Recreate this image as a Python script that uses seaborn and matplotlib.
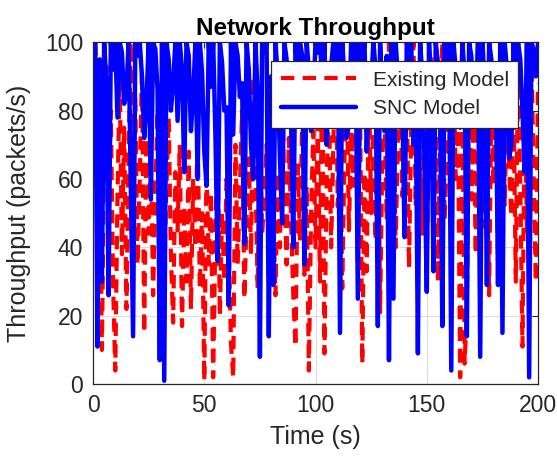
import numpy as np
import pandas as pd
import matplotlib
matplotlib.use("Agg")
import matplotlib.pyplot as plt
import seaborn as sns

# time axis (s)
time_s = list(range(1, 201))

# existing model throughput (packets/s)
existing = [
    100, 85, 62, 10, 70, 93, 45, 80, 30, 4, 55, 90, 38, 75, 22, 68, 100, 50, 84, 35,
    60, 92, 15, 72, 44, 70, 26, 55, 80, 42, 66, 33, 58, 78, 38, 18, 62, 45, 70, 17,
    52, 30, 68, 22, 60, 40, 75, 28, 50, 1, 64, 35, 56, 2, 45, 70, 20, 50, 30, 60,
    40, 12, 2, 70, 35, 58, 80, 25, 48, 66, 38, 90, 60, 28, 75, 44, 55, 70, 32, 80,
    50, 26, 62, 40, 85, 56, 35, 72, 48, 26, 11, 64, 42, 78, 32, 58, 4, 50, 74, 40,
    76, 30, 95, 9, 60, 84, 40, 70, 100, 52, 78, 28, 66, 90, 45, 74, 58, 96, 36, 82,
    6, 62, 33, 88, 50, 74, 42, 94, 21, 66, 80, 48, 100, 58, 85, 40, 72, 92, 55, 68,
    88, 34, 76, 100, 52, 80, 64, 44, 90, 38, 70, 96, 58, 82, 30, 74, 100, 48, 66, 86,
    40, 92, 60, 78, 2, 84, 6, 22, 96, 54, 76, 38, 88, 62, 100, 46, 70, 26, 82, 58,
    92, 36, 74, 100, 52, 86, 64, 49, 80, 30, 95, 58, 11, 84, 44, 72, 100, 60, 30, 88,
]

# SNC model throughput (packets/s)
snc = [
    100, 11, 95, 30, 100, 88, 26, 100, 92, 100, 78, 100, 97, 82, 85, 100, 58, 14, 100, 96,
    100, 90, 72, 82, 100, 54, 100, 98, 86, 7, 100, 1, 100, 95, 80, 88, 100, 77, 100, 92,
    62, 100, 96, 74, 84, 100, 60, 100, 91, 68, 58, 100, 87, 100, 73, 36, 100, 94, 80, 81,
    23, 100, 73, 100, 96, 84, 88, 41, 100, 92, 70, 60, 100, 85, 8, 100, 97, 100, 14, 90,
    29, 100, 90, 66, 47, 100, 95, 82, 78, 40, 100, 88, 100, 96, 35, 100, 92, 74, 85, 100,
    97, 100, 88, 100, 70, 92, 93, 100, 80, 100, 15, 100, 90, 72, 76, 100, 95, 100, 25, 100,
    94, 100, 68, 86, 88, 100, 92, 17, 100, 85, 74, 96, 7, 100, 25, 100, 90, 78, 82, 43,
    100, 95, 100, 70, 88, 9, 100, 90, 64, 27, 100, 86, 33, 100, 94, 80, 17, 100, 88, 100,
    4, 100, 92, 76, 75, 100, 90, 14, 100, 96, 84, 80, 100, 8, 100, 88, 29, 100, 95, 78,
    90, 29, 100, 15, 100, 92, 66, 70, 100, 86, 100, 95, 80, 62, 100, 2, 100, 98, 90, 100,
]

df = pd.DataFrame({
    "Time": time_s * 2,
    "Throughput": existing + snc,
    "Model": ["Existing Model"] * len(existing) + ["SNC Model"] * len(snc),
})

sns.set_theme(style="whitegrid")
plt.rcParams["font.family"] = ["Liberation Sans", "DejaVu Sans"]
plt.rcParams["xtick.direction"] = "in"
plt.rcParams["ytick.direction"] = "in"

fig = plt.figure(figsize=(5.57, 4.59), dpi=100)
ax = fig.add_axes([0.167, 0.163, 0.799, 0.745])

sns.lineplot(data=df[df["Model"] == "Existing Model"], x="Time", y="Throughput",
             color="red", linewidth=3.0, ax=ax, label="Existing Model")
ax.lines[-1].set_dashes((3.2, 2.0))
sns.lineplot(data=df[df["Model"] == "SNC Model"], x="Time", y="Throughput",
             color="blue", linewidth=3.2, ax=ax, label="SNC Model")

ax.set_xlim(0, 200)
ax.set_ylim(0, 100)
ax.set_xticks([0, 50, 100, 150, 200])
ax.set_yticks([0, 20, 40, 60, 80, 100])
ax.grid(True, color="#dcdcdc", linewidth=0.8)
for s in ax.spines.values():
    s.set_color("#262626")
    s.set_linewidth(0.9)
ax.tick_params(axis="both", labelsize=16.5, colors="#262626", length=4, width=0.8,
               top=True, right=True, pad=7)
ax.set_xlabel("Time (s)", fontsize=18, color="#262626", labelpad=6)
ax.set_ylabel("Throughput (packets/s)", fontsize=18, color="#262626", labelpad=10)
ax.set_title("Network Throughput", fontsize=17.5, fontweight="bold", color="black", pad=5)

leg = ax.legend(loc="upper right", bbox_to_anchor=(0.955, 0.944), fontsize=15,
                frameon=True, fancybox=False, framealpha=1, edgecolor="#262626",
                handlelength=3.6, borderaxespad=0, borderpad=0.45, labelspacing=0.45)
leg.get_frame().set_linewidth(0.9)

fig.savefig("out.png", dpi=100)
